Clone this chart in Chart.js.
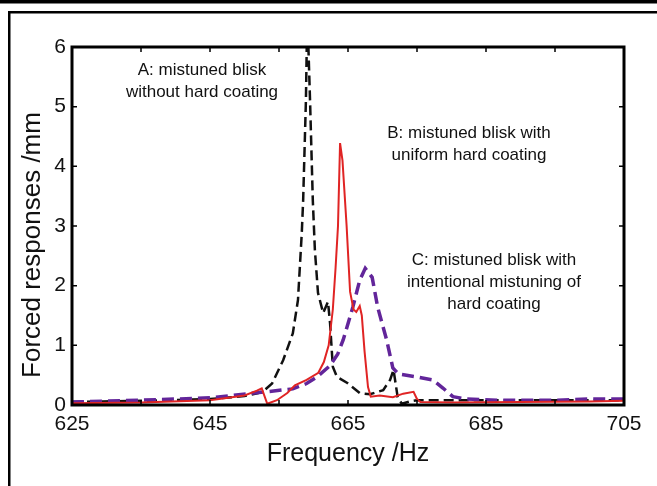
<!DOCTYPE html>
<html>
<head>
<meta charset="utf-8">
<script src="https://cdn.jsdelivr.net/npm/chart.js@4/dist/chart.umd.min.js"></script>
<style>
html, body { margin: 0; padding: 0; background: #fff; }
#wrap { width: 657px; height: 486px; }
</style>
</head>
<body>
<div id="wrap"><canvas id="chart" width="657" height="486"></canvas></div>
<script>
// Tick values
var xLabelTicks = [625, 645, 665, 685, 705];
var xMinorTicks = [625, 635, 645, 655, 665, 675, 685, 695, 705];
var yTicks = [0, 1, 2, 3, 4, 5, 6];

// A: mistuned blisk without hard coating (black dashed)
var freqA = [625, 635, 645, 650, 652, 653, 654, 655.6, 657, 657.75, 658.3, 658.5, 658.9, 659.1,
    659.5, 659.9, 660.2, 660.65, 661.4, 662.1, 662.4, 662.8, 663.4, 664.9, 666.7, 668.2, 670.1,
    671.1, 671.6, 672.2, 672.8, 674, 675, 690, 705];
var respA = [0.05, 0.07, 0.1, 0.15, 0.2, 0.26, 0.36, 0.75, 1.2, 1.76, 2.88, 3.43, 5.1, 6.6,
    5.1, 3.43, 2.6, 1.88, 1.54, 1.73, 1.37, 0.64, 0.47, 0.37, 0.2, 0.18, 0.25,
    0.42, 0.59, 0.13, 0.02, 0.06, 0.08, 0.08, 0.08];

// B: mistuned blisk with uniform hard coating (red solid)
var freqB = [625, 635, 645, 650, 651.8, 652.5, 653.3, 654.7, 656.2, 657.3, 659, 660.7, 661.5,
    662.2, 662.8, 663.2, 663.55, 663.85, 664.2, 664.8, 665.3, 665.8, 666.2, 666.7, 667, 667.4,
    667.9, 668.3, 669.6, 671.5, 673, 674.5, 675, 675.5, 680, 690, 700, 705];
var respB = [0.03, 0.04, 0.08, 0.16, 0.24, 0.28, 0.02, 0.08, 0.2, 0.33, 0.42, 0.54, 0.72,
    1.0, 1.6, 2.3, 3.0, 4.39, 4.1, 3.0, 1.9, 1.6, 1.56, 1.66, 1.5, 0.9,
    0.3, 0.14, 0.16, 0.13, 0.19, 0.22, 0.1, 0.05, 0.04, 0.05, 0.06, 0.07];

// C: mistuned blisk with intentional mistuning of hard coating (purple dashed)
var freqC = [625, 635, 645, 653, 657, 659, 660.5, 662.4, 663.5, 664.3, 665.7, 666.7, 667.5,
    668.5, 669.3, 670.6, 671.5, 672.3, 675, 677.3, 678.8, 680.2, 682.2, 686.6, 695, 700, 705];
var respC = [0.05, 0.08, 0.12, 0.22, 0.27, 0.36, 0.47, 0.66, 0.85, 1.09, 1.64, 2.09, 2.29,
    2.14, 1.64, 1.09, 0.62, 0.52, 0.47, 0.42, 0.28, 0.14, 0.1, 0.08, 0.08, 0.1, 0.1];

function toPoints(xs, ys) {
    var pts = [];
    for (var i = 0; i < xs.length; i++) {
        pts.push({ x: xs[i], y: ys[i] });
    }
    return pts;
}

var FONT = "'Liberation Sans', Arial, Helvetica, sans-serif";

// Frame, inward ticks, axis titles and the three notes
var framePlugin = {
    id: 'frame',
    beforeDraw: function(chart) {
        var ctx = chart.ctx;
        ctx.save();
        ctx.fillStyle = '#fff';
        ctx.fillRect(0, 0, chart.width, chart.height);
        ctx.fillStyle = '#000';
        ctx.fillRect(0, 0, chart.width, 3.5);
        ctx.fillRect(8, 11, chart.width - 8, 2.5);
        ctx.fillRect(8, 11, 2.5, chart.height - 11);
        ctx.restore();
    },
    afterDraw: function(chart) {
        var ctx = chart.ctx;
        var a = chart.chartArea;
        var xs = chart.scales.x, ys = chart.scales.y;
        ctx.save();
        ctx.strokeStyle = '#000';
        ctx.lineWidth = 1.5;
        ctx.beginPath();
        xMinorTicks.forEach(function(v) {
            var px = xs.getPixelForValue(v);
            ctx.moveTo(px, a.top); ctx.lineTo(px, a.top + 5);
            ctx.moveTo(px, a.bottom); ctx.lineTo(px, a.bottom - 5);
        });
        yTicks.forEach(function(v) {
            var py = ys.getPixelForValue(v);
            ctx.moveTo(a.left, py); ctx.lineTo(a.left + 5, py);
            ctx.moveTo(a.right, py); ctx.lineTo(a.right - 5, py);
        });
        ctx.stroke();
        ctx.lineWidth = 3;
        ctx.strokeRect(a.left, a.top, a.right - a.left, a.bottom - a.top);

        ctx.fillStyle = '#111';
        ctx.textAlign = 'center';
        ctx.textBaseline = 'middle';
        ctx.font = '25px ' + FONT;
        ctx.fillText('Frequency /Hz', (a.left + a.right) / 2, 454);
        ctx.save();
        ctx.translate(33, 245);
        ctx.rotate(-Math.PI / 2);
        ctx.font = '26px ' + FONT;
        ctx.fillText('Forced responses /mm', 0, 0);
        ctx.restore();

        ctx.font = '17px ' + FONT;
        ctx.fillText('A: mistuned blisk', 202, 70);
        ctx.fillText('without hard coating', 202, 92);
        ctx.fillText('B: mistuned blisk with', 469, 133);
        ctx.fillText('uniform hard coating', 469, 155);
        ctx.fillText('C: mistuned blisk with', 494, 260);
        ctx.fillText('intentional mistuning of', 494, 282);
        ctx.fillText('hard coating', 494, 304);
        ctx.restore();
    }
};

new Chart(document.getElementById('chart'), {
    type: 'line',
    data: {
        datasets: [
            {
                label: 'B',
                data: toPoints(freqB, respB),
                borderColor: '#e02424',
                borderWidth: 2,
                pointRadius: 0,
                tension: 0,
                order: 0,
                clip: 0
            },
            {
                label: 'C',
                data: toPoints(freqC, respC),
                borderColor: '#62259a',
                borderWidth: 3.5,
                borderDash: [12, 6],
                pointRadius: 0,
                tension: 0,
                order: 1,
                clip: 0
            },
            {
                label: 'A',
                data: toPoints(freqA, respA),
                borderColor: '#111',
                borderWidth: 2.5,
                borderDash: [10, 5],
                pointRadius: 0,
                tension: 0,
                order: 2,
                clip: 0
            }
        ]
    },
    options: {
        responsive: false,
        animation: false,
        devicePixelRatio: 1,
        layout: { padding: { top: 47, right: 33, left: 0, bottom: 0 } },
        plugins: {
            legend: { display: false },
            tooltip: { enabled: false },
            title: { display: false }
        },
        scales: {
            x: {
                type: 'linear',
                min: 625,
                max: 705,
                afterBuildTicks: function(s) { s.ticks = xLabelTicks.map(function(v) { return { value: v }; }); },
                afterFit: function(s) { s.height = 81; },
                ticks: { color: '#111', font: { family: FONT, size: 21 }, padding: 7, maxRotation: 0, autoSkip: false },
                grid: { display: false, drawTicks: false },
                border: { display: false }
            },
            y: {
                min: 0,
                max: 6,
                afterBuildTicks: function(s) { s.ticks = yTicks.map(function(v) { return { value: v }; }); },
                afterFit: function(s) { s.width = 72; },
                ticks: { color: '#111', font: { family: FONT, size: 21 }, padding: 6 },
                grid: { display: false, drawTicks: false },
                border: { display: false }
            }
        }
    },
    plugins: [framePlugin]
});
</script>
</body>
</html>
